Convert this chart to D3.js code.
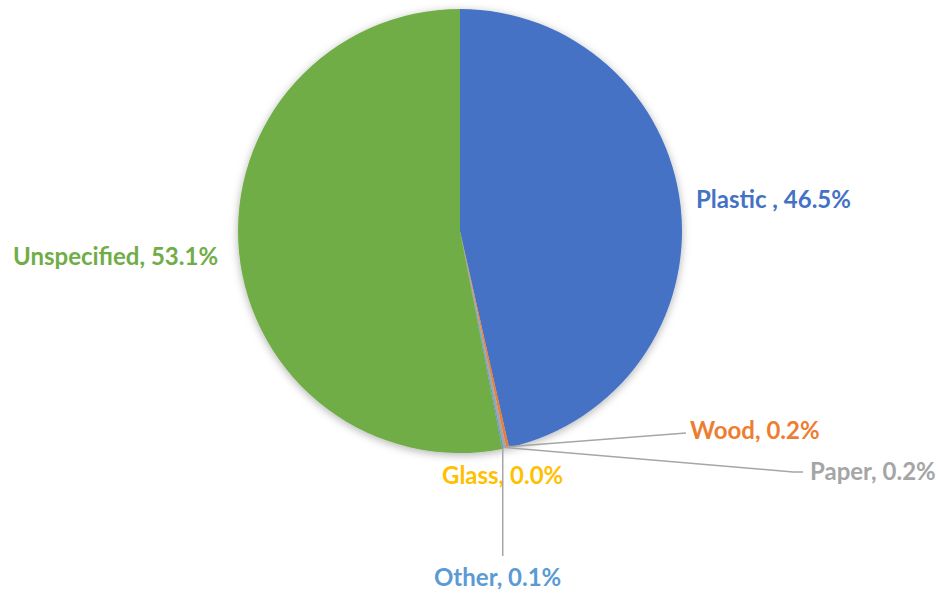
<!DOCTYPE html>
<html>
<head>
<meta charset="utf-8">
<script src="https://cdn.jsdelivr.net/npm/d3@7"></script>
<style>
  html, body { margin: 0; padding: 0; background: #fff; }
  svg text { font-family: Lato, "Open Sans", sans-serif; font-weight: 700; }
</style>
</head>
<body>
<svg id="chart" width="944" height="592"></svg>
<script>
// Share of litter items by material
const categories = ["Plastic ", "Wood", "Paper", "Glass", "Other", "Unspecified"];
const shares = [46.5, 0.2, 0.2, 0.0, 0.1, 53.1];
const colors = ["#4472C4", "#ED7D31", "#A5A5A5", "#FFC000", "#5B9BD5", "#70AD47"];

const width = 944, height = 592;
const cx = 460, cy = 231, radius = 222;

const svg = d3.select("#chart");

// soft shadow around the pie
const defs = svg.append("defs");
const f = defs.append("filter").attr("id", "shadow")
  .attr("x", "-20%").attr("y", "-20%").attr("width", "140%").attr("height", "140%");
f.append("feDropShadow").attr("dx", 0).attr("dy", 2).attr("stdDeviation", 4)
  .attr("flood-color", "#000").attr("flood-opacity", 0.3);

const data = categories.map((c, i) => ({ name: c, value: shares[i], color: colors[i] }));

const pie = d3.pie().value(d => d.value).sort(null);
const arcs = pie(data);
const arc = d3.arc().innerRadius(0).outerRadius(radius);

const g = svg.append("g").attr("transform", `translate(${cx},${cy})`);

g.append("g").attr("filter", "url(#shadow)")
  .selectAll("path").data(arcs).join("path")
  .attr("d", arc)
  .attr("fill", d => d.data.color);

// point on the rim at the middle of a slice
function rimPoint(d, r) {
  const a = (d.startAngle + d.endAngle) / 2;
  return [Math.sin(a) * r, -Math.cos(a) * r];
}

const fmt = d => `${d.data.name}, ${d3.format(".1f")(d.data.value)}%`;

// label placement relative to the pie centre, with optional leader lines
const placement = {
  "Plastic ": { x: 236, y: -23, leader: null },
  "Wood":     { x: 230, y: 208, leader: [[226, 202]] },
  "Paper":    { x: 350, y: 249, leader: [[333, 241], [343, 241]] },
  "Glass":    { x: -18, y: 253, leader: null },
  "Other":    { x: -26, y: 355, leader: "vertical" },
  "Unspecified": { x: -447, y: 34, leader: null }
};

const labels = g.append("g");
arcs.forEach(d => {
  const p = placement[d.data.name];
  const rim = rimPoint(d, radius - 1);
  if (p.leader) {
    let pts;
    if (p.leader === "vertical") pts = [rim, [rim[0], 325]];
    else pts = [rim, ...p.leader];
    labels.append("path")
      .attr("d", d3.line()(pts))
      .attr("fill", "none")
      .attr("stroke", "#A6A6A6")
      .attr("stroke-width", 1.5);
  }
  labels.append("text")
    .attr("x", p.x).attr("y", p.y)
    .attr("font-size", 24)
    .attr("fill", d.data.color)
    .text(fmt(d));
});
</script>
</body>
</html>
